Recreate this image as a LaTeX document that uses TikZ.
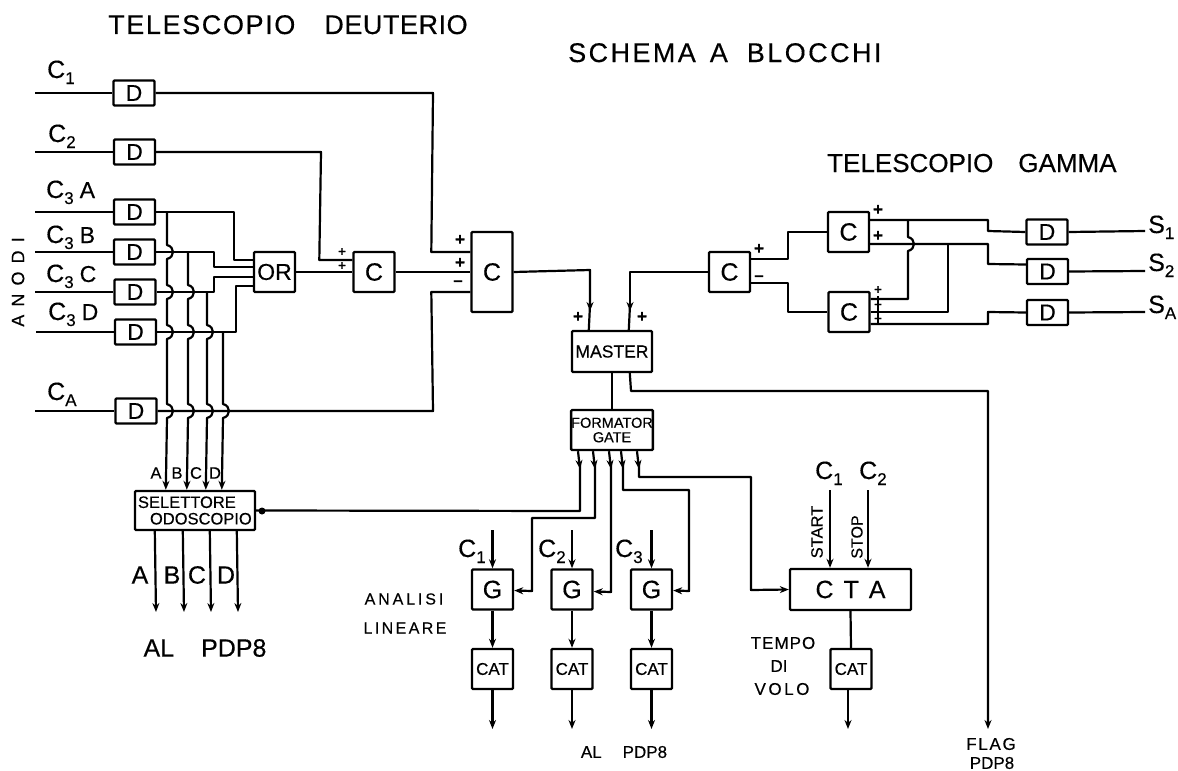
\documentclass[tikz,border=0pt]{standalone}
\usepackage{fontspec}
\setmainfont{Liberation Sans}[FakeBold=0.35]
\usetikzlibrary{arrows.meta,calc}
\newcommand{\fs}[1]{\fontsize{#1}{#1}\selectfont}
\newcommand{\lsp}[1]{\addfontfeature{LetterSpace=#1}}
\newcommand{\Cs}[2]{C\raisebox{-6pt}{\fs{17}#1}\ifx&#2&\else\hspace{6pt}{\fs{23}#2}\fi}
\newcommand{\hopx}[2]{-- (#1,#2-7) .. controls (#1+8,#2-5) and (#1+8,#2+5) .. (#1,#2+7)}
\tikzset{
  wire/.style={line width=2.2pt,line join=round},
  arr/.style={wire,-{Stealth[length=9pt,width=7pt]}},
  blk/.style={draw,line width=2.4pt,rounded corners=1pt,inner sep=0pt,fill=white},
  dbox/.style={blk,minimum width=41pt,minimum height=25pt,font=\fs{23}},
  cbox/.style={blk,minimum width=41pt,minimum height=40pt,font=\fs{25}},
  catbox/.style={blk,minimum width=41pt,minimum height=40pt,font=\fs{17}},
  lab/.style={inner sep=0pt,anchor=base west,font=\fs{25}},
  txt/.style={inner sep=0pt,align=center},
  sgn/.style={inner sep=0pt,font=\fs{17}\bfseries},
  sgnsm/.style={inner sep=0pt,font=\fs{13}\bfseries},
}
\begin{document}
\begin{tikzpicture}[x=1pt,y=-1pt]
\useasboundingbox (0,0) rectangle (1178,771);
% titles
\node[inner sep=0pt,anchor=base west,font=\fs{27}] (t1) at (108,34) {{\lsp{6}TELESCOPIO}\hspace{29pt}{\lsp{2}DEUTERIO}};
\node[inner sep=0pt,anchor=base west,font=\fs{27}] (t2) at (568,62) {\lsp{9}SCHEMA\hspace{14pt}A\hspace{19pt}BLOCCHI};
\node[inner sep=0pt,anchor=base west,font=\fs{26}] (t3) at (827,172) {TELESCOPIO\hspace{25pt}GAMMA};
\node[txt,rotate=90,font=\fs{18}] (anodi) at (18,282) {\lsp{45}ANODI};
% input labels
\node[lab] (lc1) at (47,78) {\Cs{1}{}};
\node[lab] (lc2) at (48,142) {\Cs{2}{}};
\node[lab] (lc3a) at (46,198) {\Cs{3}{A}};
\node[lab] (lc3b) at (46,243) {\Cs{3}{B}};
\node[lab] (lc3c) at (46,282) {\Cs{3}{C}};
\node[lab] (lc3d) at (48,320) {\Cs{3}{D}};
\node[lab] (lca) at (47,400) {\Cs{A}{}};
% free ends
\coordinate (i1) at (35,93);
\coordinate (i2) at (35,152);
\coordinate (i3) at (35,212);
\coordinate (i4) at (35,252);
\coordinate (i5) at (35,292);
\coordinate (i6) at (36,332);
\coordinate (i7) at (35,411);
% delay boxes
\node[dbox] (d1) at (134,93) {D};
\node[dbox] (d2) at (134.5,152) {D};
\node[dbox] (d3) at (134.5,212) {D};
\node[dbox] (d4) at (134.5,252) {D};
\node[dbox] (d5) at (135,292) {D};
\node[dbox] (d6) at (135.5,332) {D};
\node[dbox] (d7) at (136,411) {D};
\foreach \a/\b in {i1/d1,i2/d2,i3/d3,i4/d4,i5/d5,i6/d6,i7/d7} \draw[wire] (\a) -- (\b.west);
% logic
\node[cbox,font=\fs{23}] (or) at (274.5,272) {OR};
\node[cbox] (c1) at (374,272) {C};
\node[cbox,minimum height=80pt] (c2) at (492,272) {C};
\node[cbox] (c3) at (729.5,272) {C};
\node[cbox] (c4) at (848.5,232) {C};
\node[cbox] (c5) at (849,312) {C};
\node[blk,minimum width=80pt,minimum height=41pt,font=\fs{17.5}] (master) at (612,351.5) {MASTER};
\node[blk,minimum width=80pt,minimum height=40pt,align=center,font=\fs{14.5}] (gate) at (612,430) {FORMATOR\\GATE};
\node[blk,minimum height=39pt,text width=120pt,align=left,font=\fs{16.5}] (sel) at (195,510.5) {\hspace*{3pt}SELETTORE\\\hspace*{15pt}ODOSCOPIO};
\draw[wire] (d1.east) -- (433,93) -- ($(c2.west)+(-39,-20)$) -- ($(c2.west)+(0,-20)$);
\draw[wire] (d2.east) -- (321,152) -- ($(c1.west)+(-33,-12)$) -- ($(c1.west)+(0,-12)$);
\draw[wire] (or.east) -- (c1.west);
\draw[wire] (c1.east) -- (c2.west);
\draw[wire] (d7.east) -- (433,411) -- ($(c2.west)+(-39,20)$) -- ($(c2.west)+(0,20)$);
% OR inputs
\draw[wire] (d3.east) -- (234,212) -- (234,260) -- ($(or.west)+(0,-12)$);
\draw[wire] (d4.east) -- (214,252) -- (214,267) -- ($(or.west)+(0,-5)$);
\draw[wire] (d5.east) -- (214,292) -- (214,277) -- ($(or.west)+(0,5)$);
\draw[wire] (d6.east) -- (236,332) -- (236,286) -- ($(or.west)+(0,14)$);
% selector inputs with hops
\draw[arr] (167,212) \hopx{167}{252} \hopx{167}{292} \hopx{167}{332} \hopx{167}{411} -- ($(sel.north west)+(32,0)$);
\draw[arr] (188,252) \hopx{188}{292} \hopx{188}{332} \hopx{188}{411} -- ($(sel.north west)+(53,0)$);
\draw[arr] (207,292) \hopx{207}{332} \hopx{207}{411} -- ($(sel.north west)+(72,0)$);
\draw[arr] (223,332) \hopx{223}{411} -- ($(sel.north west)+(88,0)$);
\node[txt,font=\fs{16.5}] (sa) at (156,473) {A};
\node[txt,font=\fs{16.5}] (sb) at (177,473) {B};
\node[txt,font=\fs{16.5}] (sc) at (196,473) {C};
\node[txt,font=\fs{16.5}] (sd) at (215,473) {D};
% selector outputs
\coordinate (oa) at (156,612);
\coordinate (ob) at (184,612);
\coordinate (oc) at (211,612);
\coordinate (od) at (238,612);
\draw[arr] ($(sel.south west)+(21,0)$) -- (oa);
\draw[arr] ($(sel.south west)+(49,0)$) -- (ob);
\draw[arr] ($(sel.south west)+(76,0)$) -- (oc);
\draw[arr] ($(sel.south west)+(103,0)$) -- (od);
\node[txt,font=\fs{25}] (oA) at (140,575) {A};
\node[txt,font=\fs{25}] (oB) at (172,575) {B};
\node[txt,font=\fs{25}] (oC) at (197,575) {C};
\node[txt,font=\fs{25}] (oD) at (226,575) {D};
\node[txt,font=\fs{25}] (alp) at (205,648) {AL\hspace{27pt}PDP8};
% signs left
\node[sgnsm] (p1) at (342,252) {+};
\node[sgnsm] (p2) at (342,266) {+};
\node[sgn] (p3) at (460,240) {+};
\node[sgn] (p4) at (460,263) {+};
\node[sgn] (m1) at (458,283) {--};
\node[sgn] (p5) at (578,317) {+};
\node[sgn] (p6) at (642,317) {+};
% master
\draw[arr] (c2.east) -- (590,270) -- (590,311);
\draw[wire] (590,305) -- ($(master.north west)+(18,0)$);
\draw[arr] (c3.west) -- (630,272) -- (630,311);
\draw[wire] (630,305) -- ($(master.north west)+(58,0)$);
\draw[wire] (master.south) -- (gate.north);
\coordinate (flag) at (988,729);
\draw[arr] ($(master.south west)+(59,0)$) -- (631,391) -- (988,391) -- (flag);
\node[txt,font=\fs{17}] (fl) at (991,744) {\lsp{10}FLAG};
\node[txt,font=\fs{17}] (pd) at (992,763) {PDP8};
% telescope gamma
\draw[wire] ($(c3.east)+(0,-13)$) -- (788,259) -- (788,232) -- (c4.west);
\draw[wire] ($(c3.east)+(0,11)$) -- (788,283) -- (788,312) -- (c5.west);
\node[sgn] (p7) at (759,249) {+};
\node[sgn] (m2) at (759,278) {--};
\node[dbox] (d8) at (1047,232) {D};
\node[dbox] (d9) at (1047.5,271.5) {D};
\node[dbox] (d10) at (1047.5,312.5) {D};
\draw[wire] ($(c4.east)+(0,-12)$) -- (988,220) -- (988,231) -- (d8.west);
\draw[wire] ($(c4.east)+(0,12)$) -- (988,244) -- (988,264) -- ($(d9.west)+(0,-7)$);
\draw[wire] ($(c5.east)+(0,12)$) -- (988,324) -- (988,312) -- (d10.west);
\draw[wire] (908,220) \hopx{908}{244} -- (908,299) -- ($(c5.east)+(0,-13)$);
\draw[wire] (948,244) -- (948,312) -- (c5.east);
\draw[line width=1.2pt] (878,296) -- (878,323);
\node[sgn] (p8) at (878,210) {+};
\node[sgn] (p9) at (878,236) {+};
\node[sgnsm] (p10) at (878,290) {+};
\node[sgnsm] (p11) at (878,305) {+};
\node[sgnsm] (p12) at (878,319) {+};
\coordinate (s1) at (1145,231);
\coordinate (s2) at (1145,271);
\coordinate (s3) at (1145,312);
\draw[wire] (d8.east) -- (s1);
\draw[wire] (d9.east) -- (s2);
\draw[wire] (d10.east) -- (s3);
\node[lab] (ls1) at (1148,233) {S\raisebox{-6pt}{\fs{17}1}};
\node[lab] (ls2) at (1148,271) {S\raisebox{-6pt}{\fs{17}2}};
\node[lab] (ls3) at (1148,313) {S\raisebox{-6pt}{\fs{17}A}};
% G and CAT
\node[cbox] (g1) at (492.5,589.5) {G};
\node[cbox] (g2) at (572,589.5) {G};
\node[cbox] (g3) at (651.5,589.5) {G};
\node[catbox] (cat1) at (492.5,669) {CAT};
\node[catbox] (cat2) at (572,669) {CAT};
\node[catbox] (cat3) at (651.5,669) {CAT};
\node[blk,minimum width=121pt,minimum height=41pt,font=\fs{25}] (cta) at (850.5,589.5) {C\hspace{10pt}T\hspace{10pt}A};
\node[catbox] (cat4) at (851,669) {CAT};
\foreach \n/\x in {1/492.5,2/572,3/651.5}{
  \coordinate (gi\n) at (\x,530);
  \coordinate (go\n) at (\x,729);
}
\draw[arr] (gi1) -- (g1.north);
\draw[arr] (gi2) -- (g2.north);
\draw[arr] (gi3) -- (g3.north);
\draw[arr] (g1.south) -- (cat1.north);
\draw[arr] (g2.south) -- (cat2.north);
\draw[arr] (g3.south) -- (cat3.north);
\draw[arr] (cat1.south) -- (go1);
\draw[arr] (cat2.south) -- (go2);
\draw[arr] (cat3.south) -- (go3);
\node[lab] (g1l) at (458,557) {\Cs{1}{}};
\node[lab] (g2l) at (538,557) {\Cs{2}{}};
\node[lab] (g3l) at (615,557) {\Cs{3}{}};
% gate outputs
\draw[arr] ($(gate.south west)+(8,0)$) -- (580,469);
\draw[arr] ($(gate.south west)+(23,0)$) -- (595,469);
\draw[arr] ($(gate.south west)+(39,0)$) -- (611,469);
\draw[arr] ($(gate.south west)+(51,0)$) -- (623,469);
\draw[arr] ($(gate.south west)+(67,0)$) -- (639,469);
\draw[wire] (580,462) -- (580,511) -- (sel.east);
\node[circle,fill,inner sep=0pt,minimum size=7pt] (dot) at (262,511) {};
\draw[arr] (595,462) -- (595,518) -- (532,518) -- (532,591) -- ($(g1.east)+(0,1)$);
\draw[arr] (611,462) -- (611,592) -- ($(g2.east)+(0,2)$);
\draw[arr] (623,462) -- (623,490) -- (689,490) -- (689,591) -- ($(g3.east)+(0,1)$);
\draw[arr] (639,462) -- (639,477) -- (751,477) -- (751,590) -- (cta.west);
% CTA
\coordinate (cti1) at (830,490);
\coordinate (cti2) at (868,490);
\draw[arr] (cti1) -- (cti1 |- cta.north);
\draw[arr] (cti2) -- (cti2 |- cta.north);
\draw[wire] (cta.south) -- (cat4.north);
\coordinate (cto) at (848,729);
\draw[arr] ($(cat4.south)+(-3,0)$) -- (cto);
\node[lab] (c1t) at (815,479) {\Cs{1}{}};
\node[lab] (c2t) at (859,479) {\Cs{2}{}};
\node[txt,rotate=90,font=\fs{16.5}] (start) at (817,532) {START};
\node[txt,rotate=90,font=\fs{16}] (stop) at (857,537) {STOP};
\node[txt,font=\fs{17}] (te) at (783,643) {\lsp{6}TEMPO};
\node[txt,font=\fs{17}] (di) at (779,666) {DI};
\node[txt,font=\fs{17}] (vo) at (782,689) {\lsp{15}VOLO};
\node[txt,font=\fs{16}] (an) at (404,599) {\lsp{18}ANALISI};
\node[txt,font=\fs{16}] (li) at (405,628) {\lsp{15}LINEARE};
\node[txt,font=\fs{17}] (alb) at (624,752) {AL\hspace{21pt}PDP8};
\end{tikzpicture}
\end{document}
